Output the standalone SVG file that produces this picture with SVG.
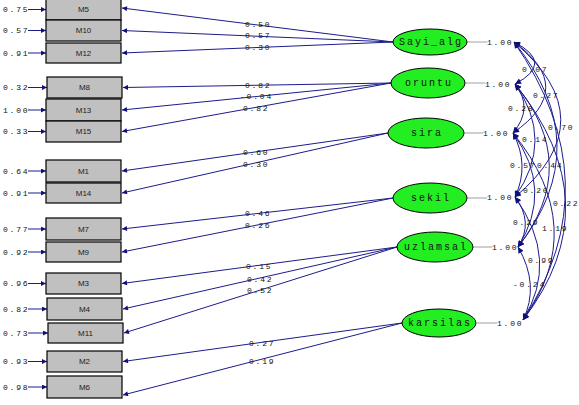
<svg xmlns="http://www.w3.org/2000/svg" width="579" height="405" viewBox="0 0 579 405">
<style>
.box{fill:#c0c0c0;stroke:#000;stroke-width:1.2}
.bl{font-family:"Liberation Sans",Arial,sans-serif;font-size:8px;fill:#222;text-anchor:middle;dominant-baseline:central}
.num{font-family:"Liberation Mono","Courier New",monospace;font-size:8px;letter-spacing:1.8px;fill:#111;dominant-baseline:central}
.lat{fill:#22ee22;stroke:#000;stroke-width:1}
.ll{font-family:"Liberation Mono","Courier New",monospace;font-size:10px;letter-spacing:2px;fill:#111;text-anchor:middle;dominant-baseline:central}
.ln{stroke:#1c1c8c;stroke-width:1;fill:none}
.gr{stroke:#b0b0b0;stroke-width:1.2;fill:none}
.arc{stroke:#1c1c8c;stroke-width:1;fill:none;marker-start:url(#ah2);marker-end:url(#ah2)}
</style>
<defs>
<marker id="ah" viewBox="0 0 10 10" refX="10" refY="5" markerWidth="9" markerHeight="5" markerUnits="userSpaceOnUse" orient="auto"><path d="M0,0 L10,5 L0,10 z" fill="#10107a"/></marker>
<marker id="ah2" viewBox="0 0 10 10" refX="10" refY="5" markerWidth="9" markerHeight="6" markerUnits="userSpaceOnUse" orient="auto-start-reverse"><path d="M0,0 L10,5 L0,10 z" fill="#10107a"/></marker>
</defs>
<rect width="579" height="405" fill="#fff"/>
<g id="connectors">
<!-- error arrows -->
<g class="ln" marker-end="url(#ah)">
<line x1="28" y1="9.5" x2="46" y2="9.5"/>
<line x1="28" y1="30.5" x2="46" y2="30.5"/>
<line x1="28" y1="53" x2="46" y2="53"/>
<line x1="28" y1="87.5" x2="47" y2="87.5"/>
<line x1="28" y1="110" x2="46" y2="110"/>
<line x1="28" y1="131.5" x2="46" y2="131.5"/>
<line x1="28" y1="171" x2="46" y2="171"/>
<line x1="28" y1="193" x2="46" y2="193"/>
<line x1="28" y1="229" x2="46" y2="229"/>
<line x1="28" y1="252" x2="46" y2="252"/>
<line x1="28" y1="283.5" x2="46" y2="283.5"/>
<line x1="28" y1="309" x2="47" y2="309"/>
<line x1="28" y1="333" x2="48" y2="333"/>
<line x1="28" y1="361.5" x2="47" y2="361.5"/>
<line x1="28" y1="387" x2="47" y2="387"/>
</g>
<!-- loadings -->
<g class="ln" marker-end="url(#ah)">
<line x1="393" y1="42" x2="122" y2="8"/>
<line x1="393" y1="42" x2="122" y2="30.5"/>
<line x1="393" y1="42" x2="122" y2="53"/>
<line x1="391" y1="83" x2="123" y2="87.5"/>
<line x1="391" y1="83" x2="122" y2="110"/>
<line x1="391" y1="83" x2="122" y2="131.5"/>
<line x1="388" y1="133" x2="122" y2="171"/>
<line x1="388" y1="133" x2="122" y2="193"/>
<line x1="393" y1="198" x2="122" y2="229"/>
<line x1="393" y1="198" x2="122" y2="252"/>
<line x1="397" y1="247" x2="122" y2="283.5"/>
<line x1="397" y1="247" x2="123" y2="309"/>
<line x1="397" y1="247" x2="124" y2="333"/>
<line x1="402" y1="323" x2="123" y2="361.5"/>
<line x1="402" y1="323" x2="123" y2="395"/>
</g>
<!-- variance lines -->
<g class="gr">
<line x1="467" y1="42" x2="487" y2="42"/>
<line x1="465" y1="83" x2="485" y2="83"/>
<line x1="464" y1="133" x2="483" y2="133"/>
<line x1="467" y1="198" x2="487" y2="198"/>
<line x1="473" y1="247" x2="492" y2="247"/>
<line x1="477" y1="323" x2="497" y2="323"/>
</g>
<!-- correlation arcs -->
<path class="arc" d="M514,42 Q555,63 515,84"/>
<path class="arc" d="M514,42 Q578,88 513,133"/>
<path class="arc" d="M514,42 Q607,120 515,197"/>
<path class="arc" d="M514,42 Q598,145 518,247"/>
<path class="arc" d="M514,42 Q612,183 523,320"/>
<path class="arc" d="M515,84 Q534,108 513,133"/>
<path class="arc" d="M515,84 Q555,140 515,197"/>
<path class="arc" d="M515,84 Q582,165 518,247"/>
<path class="arc" d="M515,84 Q612,204 523,320"/>
<path class="arc" d="M513,133 Q530,165 515,197"/>
<path class="arc" d="M513,133 Q554,190 518,247"/>
<path class="arc" d="M513,133 Q590,228 523,320"/>
<path class="arc" d="M515,197 Q534,222 518,247"/>
<path class="arc" d="M515,197 Q560,260 523,320"/>
<path class="arc" d="M518,247 Q540,285 523,320"/>
</g>
<g id="labels">
<!-- error labels -->
<text class="num" x="3" y="9.5">0.75</text>
<text class="num" x="3" y="30.5">0.57</text>
<text class="num" x="3" y="53">0.91</text>
<text class="num" x="3" y="87.5">0.32</text>
<text class="num" x="3" y="110">1.00</text>
<text class="num" x="3" y="131.5">0.33</text>
<text class="num" x="3" y="171">0.64</text>
<text class="num" x="3" y="193">0.91</text>
<text class="num" x="3" y="229">0.77</text>
<text class="num" x="3" y="252">0.92</text>
<text class="num" x="3" y="283.5">0.96</text>
<text class="num" x="3" y="309">0.82</text>
<text class="num" x="3" y="333">0.73</text>
<text class="num" x="3" y="361.5">0.93</text>
<text class="num" x="3" y="387">0.98</text>
<!-- loading labels -->
<text class="num" x="245" y="24">0.50</text>
<text class="num" x="245" y="35">0.57</text>
<text class="num" x="245" y="47">0.30</text>
<text class="num" x="245" y="85">0.82</text>
<text class="num" x="240" y="96">-0.04</text>
<text class="num" x="243" y="108">0.82</text>
<text class="num" x="243" y="152">0.60</text>
<text class="num" x="243" y="164">0.30</text>
<text class="num" x="245" y="213">0.46</text>
<text class="num" x="245" y="225">0.26</text>
<text class="num" x="246" y="266">0.15</text>
<text class="num" x="247" y="279">0.42</text>
<text class="num" x="247" y="290">0.52</text>
<text class="num" x="249" y="343">0.27</text>
<text class="num" x="249" y="361">0.19</text>
<!-- variances -->
<text class="num" x="487" y="42">1.00</text>
<text class="num" x="485" y="84">1.00</text>
<text class="num" x="483" y="133">1.00</text>
<text class="num" x="487" y="197">1.00</text>
<text class="num" x="492" y="247">1.00</text>
<text class="num" x="497" y="323">1.00</text>
<!-- correlations -->
<text class="num" x="522" y="69">0.07</text>
<text class="num" x="533" y="95">0.27</text>
<text class="num" x="548" y="127">0.70</text>
<text class="num" x="508" y="108">0.28</text>
<text class="num" x="522" y="139">0.14</text>
<text class="num" x="510" y="165">0.57</text>
<text class="num" x="537" y="165">0.44</text>
<text class="num" x="553" y="203">0.22</text>
<text class="num" x="523" y="190">0.20</text>
<text class="num" x="513" y="222">0.29</text>
<text class="num" x="542" y="228">1.19</text>
<text class="num" x="528" y="260">0.99</text>
<text class="num" x="513" y="284">-0.24</text>
</g>
<g id="M5"><rect class="box" x="46" y="-1" width="75" height="21"/><text class="bl" x="83.5" y="9.5">M5</text></g>
<g id="M10"><rect class="box" x="46" y="20" width="75" height="21"/><text class="bl" x="83.5" y="30.5">M10</text></g>
<g id="M12"><rect class="box" x="46" y="43" width="75" height="20"/><text class="bl" x="83.5" y="53">M12</text></g>
<g id="M8"><rect class="box" x="47" y="77" width="75" height="21"/><text class="bl" x="84.5" y="87.5">M8</text></g>
<g id="M13"><rect class="box" x="46" y="99" width="75" height="22"/><text class="bl" x="83.5" y="110">M13</text></g>
<g id="M15"><rect class="box" x="46" y="121" width="75" height="21"/><text class="bl" x="83.5" y="131.5">M15</text></g>
<g id="M1"><rect class="box" x="46" y="160" width="75" height="22"/><text class="bl" x="83.5" y="171">M1</text></g>
<g id="M14"><rect class="box" x="46" y="183" width="75" height="20"/><text class="bl" x="83.5" y="193">M14</text></g>
<g id="M7"><rect class="box" x="46" y="218" width="75" height="22"/><text class="bl" x="83.5" y="229">M7</text></g>
<g id="M9"><rect class="box" x="46" y="242" width="75" height="20"/><text class="bl" x="83.5" y="252">M9</text></g>
<g id="M3"><rect class="box" x="46" y="273" width="75" height="21"/><text class="bl" x="83.5" y="283.5">M3</text></g>
<g id="M4"><rect class="box" x="47" y="298" width="75" height="22"/><text class="bl" x="84.5" y="309">M4</text></g>
<g id="M11"><rect class="box" x="48" y="323" width="75" height="20"/><text class="bl" x="85.5" y="333">M11</text></g>
<g id="M2"><rect class="box" x="47" y="351" width="75" height="21"/><text class="bl" x="84.5" y="361.5">M2</text></g>
<g id="M6"><rect class="box" x="47" y="376" width="75" height="22"/><text class="bl" x="84.5" y="387">M6</text></g>
<g id="Sayi_alg"><ellipse class="lat" cx="430" cy="42" rx="37" ry="13"/><text class="ll" x="431" y="42">Sayi_alg</text></g>
<g id="oruntu"><ellipse class="lat" cx="428" cy="83" rx="37" ry="15"/><text class="ll" x="429" y="83">oruntu</text></g>
<g id="sira"><ellipse class="lat" cx="426" cy="133" rx="38" ry="15"/><text class="ll" x="427" y="133">sira</text></g>
<g id="sekil"><ellipse class="lat" cx="430" cy="198" rx="37" ry="15"/><text class="ll" x="431" y="198">sekil</text></g>
<g id="uzlamsal"><ellipse class="lat" cx="435" cy="247" rx="38" ry="15"/><text class="ll" x="436" y="247">uzlamsal</text></g>
<g id="karsilas"><ellipse class="lat" cx="439" cy="323" rx="37" ry="14"/><text class="ll" x="440" y="323">karsilas</text></g>
</svg>
